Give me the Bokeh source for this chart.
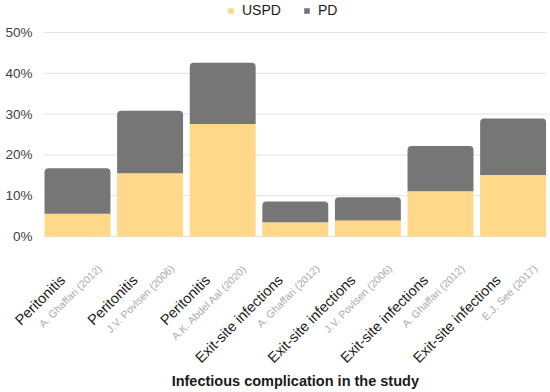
from math import pi
from bokeh.plotting import figure
from bokeh.core.properties import value
from bokeh.models import (ColumnDataSource, Range1d, LabelSet, Label, Legend, LegendItem)
from bokeh.embed import file_html
from bokeh.resources import INLINE

# ---- data ----
complications = ["Peritonitis", "Peritonitis", "Peritonitis",
                 "Exit-site infections", "Exit-site infections",
                 "Exit-site infections", "Exit-site infections"]
studies = ["A. Ghaffari (2012)", "J.V. Povlsen (2006)", "A.K. Abdel Aal (2020)",
           "A. Ghaffari (2012)", "J.V. Povlsen (2006)", "A. Ghaffari (2012)",
           "E.J. See (2017)"]
uspd = [0.056, 0.155, 0.276, 0.035, 0.039, 0.111, 0.151]
pd_ = [0.111, 0.153, 0.150, 0.051, 0.057, 0.111, 0.138]
y_ticks = [0, 0.1, 0.2, 0.3, 0.4, 0.5]
y_tick_labels = ["0%", "10%", "20%", "30%", "40%", "50%"]
x_title = "Infectious complication in the study"

USPD_COLOR = "#FFD88A"
PD_COLOR = "#767676"
FONT = "Liberation Sans"

# ---- layout helpers (pixels -> data units) ----
W, H = 550, 392
LEFT, SLOT = 40.7, 72.6        # category area start and slot width in pixels
BASE, TOP = 236, 32            # 0% and 50% in pixels
GRID_L, GRID_R = 43, 546
n = len(complications)
YPX = 0.5 / (BASE - TOP)

def xd(px):
    return (px - LEFT) / SLOT

xs = [i + 0.5 for i in range(n)]
top_pd = [a + b for a, b in zip(uspd, pd_)]

src = ColumnDataSource(dict(
    x=xs, uspd=uspd, pd=pd_, top=top_pd, comp=complications, study=studies,
    y_main=[-41 * YPX] * n, y_study=[-30 * YPX] * n,
))

p = figure(width=W, height=H,
           x_range=Range1d(xd(0), xd(W)),
           y_range=Range1d(-(H - BASE) * YPX, 0.5 + TOP * YPX),
           output_backend="svg", toolbar_location=None,
           min_border=0, min_border_left=0, min_border_right=0,
           min_border_top=0, min_border_bottom=0)
p.outline_line_color = None
p.axis.visible = False
p.grid.visible = False
p.background_fill_color = "white"
p.border_fill_color = "white"

# horizontal grid lines at the tick values
p.segment(x0=xd(GRID_L), x1=xd(GRID_R), y0=y_ticks, y1=y_ticks,
          line_color="#E3E3E3", line_width=1)

# y tick labels
p.text(x=xd(32), y=y_ticks, text=y_tick_labels, text_align="right",
       text_baseline="middle", text_font=value(FONT), text_font_size="13.5px",
       text_color="#404040")

r1 = p.vbar(x="x", bottom=0, top="uspd", width=0.908, source=src,
            fill_color=USPD_COLOR, line_color=None)
r2 = p.vbar(x="x", bottom="uspd", top="top", width=0.908, source=src,
            fill_color=PD_COLOR, line_color=None, border_radius=(4, 4, 0, 0))

main_labels = LabelSet(x="x", y="y_main", text="comp", source=src, angle=pi / 4,
                       x_offset=-15, text_align="right", text_baseline="middle",
                       text_font=value(FONT), text_font_size="14.5px",
                       text_color="#1a1a1a")
study_labels = LabelSet(x="x", y="y_study", text="study", source=src, angle=pi / 4,
                        x_offset=22, text_align="right", text_baseline="middle",
                        text_font=value(FONT), text_font_size="10.5px",
                        text_color="#ABABAB")
p.add_layout(main_labels)
p.add_layout(study_labels)

title = Label(x=n / 2, y=-144 * YPX, text=x_title,
              text_align="center", text_baseline="middle", text_font=FONT,
              text_font_size="14.5px", text_font_style="bold", text_color="#1a1a1a")
p.add_layout(title)

legend = Legend(items=[LegendItem(label="USPD", renderers=[r1]),
                       LegendItem(label="PD", renderers=[r2])],
                orientation="horizontal", location=(227, H - 18),
                glyph_width=7, glyph_height=7, label_height=14,
                label_standoff=8, spacing=22, padding=0, margin=0,
                border_line_color=None, background_fill_alpha=0,
                label_text_font=FONT, label_text_font_size="14px",
                label_text_color="#1a1a1a")
p.add_layout(legend, "center")

open("out.html", "w").write(file_html(p, INLINE))
